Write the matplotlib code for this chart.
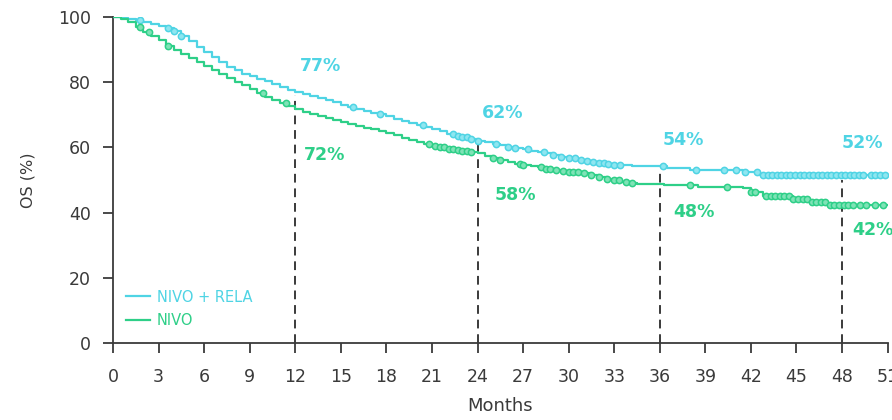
import numpy as np
import matplotlib
matplotlib.use("Agg")
import matplotlib.pyplot as plt

# ── colours ───────────────────────────────────────────────────────────────────
CYAN = "#4fd4e4"
GREEN = "#2ecf88"
DARK = "#3a3a3a"

# ── data ─────────────────────────────────────────────────────────────────────
combo_t = [0, 0.5, 1.0, 1.5, 2.0, 2.5, 3.0, 3.5, 4.0, 4.5, 5.0, 5.5, 6.0, 6.5,
           7.0, 7.5, 8.0, 8.5, 9.0, 9.5, 10.0, 10.5, 11.0, 11.5, 12.0, 12.5,
           13.0, 13.5, 14.0, 14.5, 15.0, 15.5, 16.0, 16.5, 17.0, 17.5, 18.0,
           18.5, 19.0, 19.5, 20.0, 20.5, 21.0, 21.5, 22.0, 22.5, 23.0, 23.5,
           24.0, 24.5, 25.0, 25.5, 26.0, 26.5, 27.0, 27.5, 28.0, 28.5, 29.0,
           29.5, 30.0, 30.5, 31.0, 31.5, 32.0, 32.5, 33.0, 33.5, 34.2, 36.5,
           38.0, 41.5, 42.6, 51.0]
combo_s = [100, 99.8, 99.5, 99.2, 98.6, 97.8, 97.2, 96.5, 95.6, 94.3, 92.5,
           90.8, 89.2, 87.8, 86.3, 84.8, 83.6, 82.6, 81.8, 81.0, 80.3, 79.5,
           78.5, 77.6, 77.0, 76.5, 75.8, 75.2, 74.5, 73.8, 73.1, 72.4, 71.8,
           71.2, 70.6, 70.1, 69.5, 68.8, 68.2, 67.6, 67.0, 66.3, 65.6, 64.9,
           64.2, 63.6, 63.1, 62.6, 62.1, 61.6, 61.1, 60.6, 60.2, 59.8, 59.4,
           59.0, 58.6, 58.2, 57.8, 57.2, 56.6, 56.1, 55.7, 55.4, 55.1, 54.9,
           54.7, 54.5, 54.3, 53.8, 53.0, 52.4, 51.6, 51.6]
combo_cens = [1.8, 3.6, 4.0, 4.5, 15.8, 17.6, 20.4, 22.4, 22.7, 23.0, 23.3,
              23.6, 24.0, 25.2, 26.0, 26.5, 27.3, 28.4, 29.0, 29.5, 30.0, 30.4,
              30.8, 31.2, 31.6, 32.0, 32.3, 32.6, 33.0, 33.4, 36.2, 38.4, 40.2,
              41.0, 41.6, 42.4, 42.8, 43.1, 43.4, 43.7, 44.0, 44.3, 44.6, 44.9,
              45.2, 45.5, 45.8, 46.1, 46.4, 46.7, 47.0, 47.3, 47.6, 47.9, 48.2,
              48.5, 48.8, 49.1, 49.4, 49.9, 50.2, 50.5, 50.8]

mono_t = [0, 0.5, 1.0, 1.5, 2.0, 2.5, 3.0, 3.5, 4.0, 4.5, 5.0, 5.5, 6.0, 6.5,
          7.0, 7.5, 8.0, 8.5, 9.0, 9.5, 10.0, 10.5, 11.0, 11.5, 12.0, 12.5,
          13.0, 13.5, 14.0, 14.5, 15.0, 15.5, 16.0, 16.5, 17.0, 17.5, 18.0,
          18.5, 19.0, 19.5, 20.0, 20.5, 21.0, 21.5, 22.0, 22.5, 23.0, 23.5,
          24.0, 24.5, 25.0, 25.5, 26.0, 26.5, 27.0, 27.5, 28.0, 28.5, 29.0,
          29.5, 30.0, 30.5, 31.0, 31.5, 32.0, 32.5, 33.0, 33.5, 34.0, 34.5,
          36.3, 38.5, 41.5, 42.0, 42.8, 44.8, 45.8, 47.0, 51.0]
mono_s = [100, 99.5, 98.5, 96.8, 95.3, 94.2, 92.8, 91.0, 89.8, 88.6, 87.5,
          86.3, 85.0, 83.8, 82.6, 81.4, 80.2, 79.0, 77.8, 76.7, 75.6, 74.6,
          73.6, 72.6, 71.8, 71.0, 70.2, 69.6, 69.0, 68.4, 67.9, 67.3, 66.7,
          66.1, 65.5, 64.9, 64.3, 63.7, 63.0, 62.3, 61.6, 60.9, 60.4, 60.0,
          59.6, 59.3, 59.0, 58.7, 58.2, 57.4, 56.6, 56.0, 55.5, 55.0, 54.6,
          54.3, 53.9, 53.5, 53.1, 52.8, 52.6, 52.4, 52.0, 51.5, 50.9, 50.4,
          49.9, 49.5, 49.0, 48.7, 48.4, 47.8, 47.4, 46.2, 45.1, 44.3, 43.4,
          42.2, 42.2]
mono_cens = [1.8, 2.4, 3.6, 9.9, 11.4, 20.8, 21.2, 21.5, 21.8, 22.1, 22.4,
             22.7, 23.0, 23.3, 23.6, 25.0, 25.5, 26.8, 27.0, 28.2, 28.5, 28.8,
             29.2, 29.6, 30.0, 30.3, 30.6, 31.0, 31.5, 32.0, 32.5, 33.0, 33.3,
             33.8, 34.2, 38.0, 40.4, 42.0, 42.3, 43.0, 43.3, 43.6, 43.9, 44.2,
             44.5, 44.8, 45.1, 45.4, 45.7, 46.0, 46.3, 46.6, 46.9, 47.2, 47.5,
             47.8, 48.1, 48.4, 48.7, 49.2, 49.6, 50.2, 50.7]

landmarks = [12, 24, 36, 48]
landmark_top = [76, 62, 52, 50]

combo_pct = ["77%", "62%", "54%", "52%"]
combo_pct_xy = [(12.3, 85.0), (24.3, 70.6), (36.2, 62.3), (48.0, 61.3)]
mono_pct = ["72%", "58%", "48%", "42%"]
mono_pct_xy = [(12.6, 57.7), (25.1, 45.4), (36.9, 40.3), (48.7, 34.7)]

x_ticks = list(range(0, 52, 3))
y_ticks = [0, 20, 40, 60, 80, 100]


def surv_at(times, surv, t):
    idx = np.searchsorted(times, t, side="right") - 1
    return np.asarray(surv)[idx]


# ── figure ────────────────────────────────────────────────────────────────────
fig = plt.figure(figsize=(8.92, 4.2), dpi=100)
ax = fig.add_axes([113 / 892, 1 - 343 / 420, 774.6 / 892, 326 / 420])
ax.set_xlim(0, 51)
ax.set_ylim(0, 100)

ax.vlines(landmarks, 0, landmark_top, colors=DARK, linewidth=1.4,
          linestyles=(0, (4.5, 3)), zorder=1)

ax.plot(combo_t, combo_s, drawstyle="steps-post", color=CYAN, lw=1.6,
        label="NIVO + RELA", zorder=3)
ax.plot(mono_t, mono_s, drawstyle="steps-post", color=GREEN, lw=1.6,
        label="NIVO", zorder=3)
ax.plot(combo_cens, surv_at(combo_t, combo_s, combo_cens), ls="none",
        marker="o", ms=4.5, mfc="#8fe6f0", mec=CYAN, mew=1.1, zorder=4)
ax.plot(mono_cens, surv_at(mono_t, mono_s, mono_cens), ls="none",
        marker="o", ms=4.5, mfc="#7fe3b6", mec=GREEN, mew=1.1, zorder=4)

for s, (x, y) in zip(combo_pct, combo_pct_xy):
    ax.text(x, y, s, color=CYAN, fontsize=12.5, fontweight="bold",
            ha="left", va="center", clip_on=False)
for s, (x, y) in zip(mono_pct, mono_pct_xy):
    ax.text(x, y, s, color=GREEN, fontsize=12.5, fontweight="bold",
            ha="left", va="center", clip_on=False)

# ── axes styling ─────────────────────────────────────────────────────────────
for side in ("top", "right"):
    ax.spines[side].set_visible(False)
for side in ("left", "bottom"):
    ax.spines[side].set_color(DARK)
    ax.spines[side].set_linewidth(1.3)

ax.set_xticks(x_ticks)
ax.set_yticks(y_ticks)
ax.tick_params(axis="both", direction="out", length=7, width=1.3,
               color=DARK, labelcolor=DARK, labelsize=12.5)
ax.tick_params(axis="x", pad=11)
ax.tick_params(axis="y", pad=9)

ax.set_xlabel("Months", fontsize=13, color=DARK)
ax.xaxis.set_label_coords(0.5, -0.165)
ax.set_ylabel("OS (%)", fontsize=11.5, color=DARK)
ax.yaxis.set_label_coords(-0.1, 0.5)

ax.legend(loc="lower left", bbox_to_anchor=(0.017, 0.045), frameon=False,
          fontsize=10.5, labelcolor="linecolor", handlelength=1.6,
          handletextpad=0.5, labelspacing=0.6, borderpad=0,
          borderaxespad=0)

fig.savefig("out.png", dpi=100, facecolor="white")
